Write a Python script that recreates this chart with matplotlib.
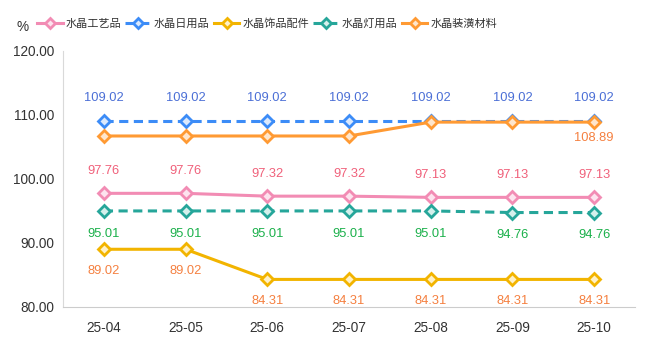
import matplotlib
matplotlib.use("Agg")
import matplotlib.pyplot as plt

plt.rcParams['font.family'] = ['Liberation Sans', 'Noto Sans CJK SC', 'DejaVu Sans']

months = ["25-04", "25-05", "25-06", "25-07", "25-08", "25-09", "25-10"]
names = ["水晶工艺品", "水晶日用品", "水晶饰品配件", "水晶灯用品", "水晶装潢材料"]
v_craft = [97.76, 97.76, 97.32, 97.32, 97.13, 97.13, 97.13]
v_daily = [109.02, 109.02, 109.02, 109.02, 109.02, 109.02, 109.02]
v_jewel = [89.02, 89.02, 84.31, 84.31, 84.31, 84.31, 84.31]
v_lamp = [95.01, 95.01, 95.01, 95.01, 95.01, 94.76, 94.76]
v_deco = [106.72, 106.72, 106.72, 106.72, 108.89, 108.89, 108.89]
deco_label_shown = [False, False, False, False, False, False, True]
y_ticks = [80, 90, 100, 110, 120]

series = [
    (names[0], v_craft, "#f28cb4", "#fde3ee", "-", "#f0607a", 15.8, [True]*7),
    (names[1], v_daily, "#3c8cf7", "#dbe9fd", "--", "#4b6fd6", 16.5, [True]*7),
    (names[2], v_jewel, "#f2b400", "#fff1c7", "-", "#f58040", -15.8, [True]*7),
    (names[3], v_lamp, "#26a69a", "#d4f0ec", "--", "#1ab04a", -16.5, [True]*7),
    (names[4], v_deco, "#ff9a33", "#ffe6cc", "-", "#f58040", -11.5, deco_label_shown),
]

fig = plt.figure(figsize=(6.51, 3.42), dpi=100)
ax = fig.add_axes([63/651, 35/342, (635-63)/651, (307-51)/342])
x = list(range(len(months)))

for name, vals, col, fill, ls, lcol, off, shown in series:
    kw = dict(color=col, lw=2.2, marker="D", markersize=6.5, markeredgewidth=2.0,
              markerfacecolor=fill, markeredgecolor=col, label=name)
    if ls == "--":
        kw["linestyle"] = (0, (3, 1.8))
        kw["dash_capstyle"] = "butt"
    else:
        kw["linestyle"] = "-"
    ax.plot(x, vals, **kw)
    for xi, v, s in zip(x, vals, shown):
        if s:
            ax.annotate(f"{v:.2f}", (xi, v), xytext=(0, off), textcoords="offset points",
                        ha="center", va="center", color=lcol, fontsize=9.3)

ax.set_xlim(-0.5, len(months) - 0.5)
ax.set_ylim(80, 120)
ax.set_yticks(y_ticks)
ax.set_yticklabels([f"{t:.2f}" for t in y_ticks])
ax.set_xticks(x)
ax.set_xticklabels(months)
ax.tick_params(axis="both", length=0, labelsize=9.8, colors="#333333")
ax.tick_params(axis="y", pad=6)
ax.tick_params(axis="x", pad=10)
for sp in ["top", "right"]:
    ax.spines[sp].set_visible(False)
ax.spines["left"].set_color("#d9d9d9")
ax.spines["bottom"].set_color("#cccccc")

fig.text(23/651, 1 - 27/342, "%", ha="center", va="center", fontsize=9.8, color="#333333")
leg = fig.legend(loc="center", bbox_to_anchor=(267/651, 1 - 24/342), ncol=5, frameon=False,
                 handlelength=2.3, handletextpad=0.25, columnspacing=0.4, markerscale=0.75,
                 borderpad=0.2, prop={"family": ["Noto Sans CJK SC"], "size": 8.0},
                 labelcolor="#333333")
fig.savefig("out.png", dpi=100)
